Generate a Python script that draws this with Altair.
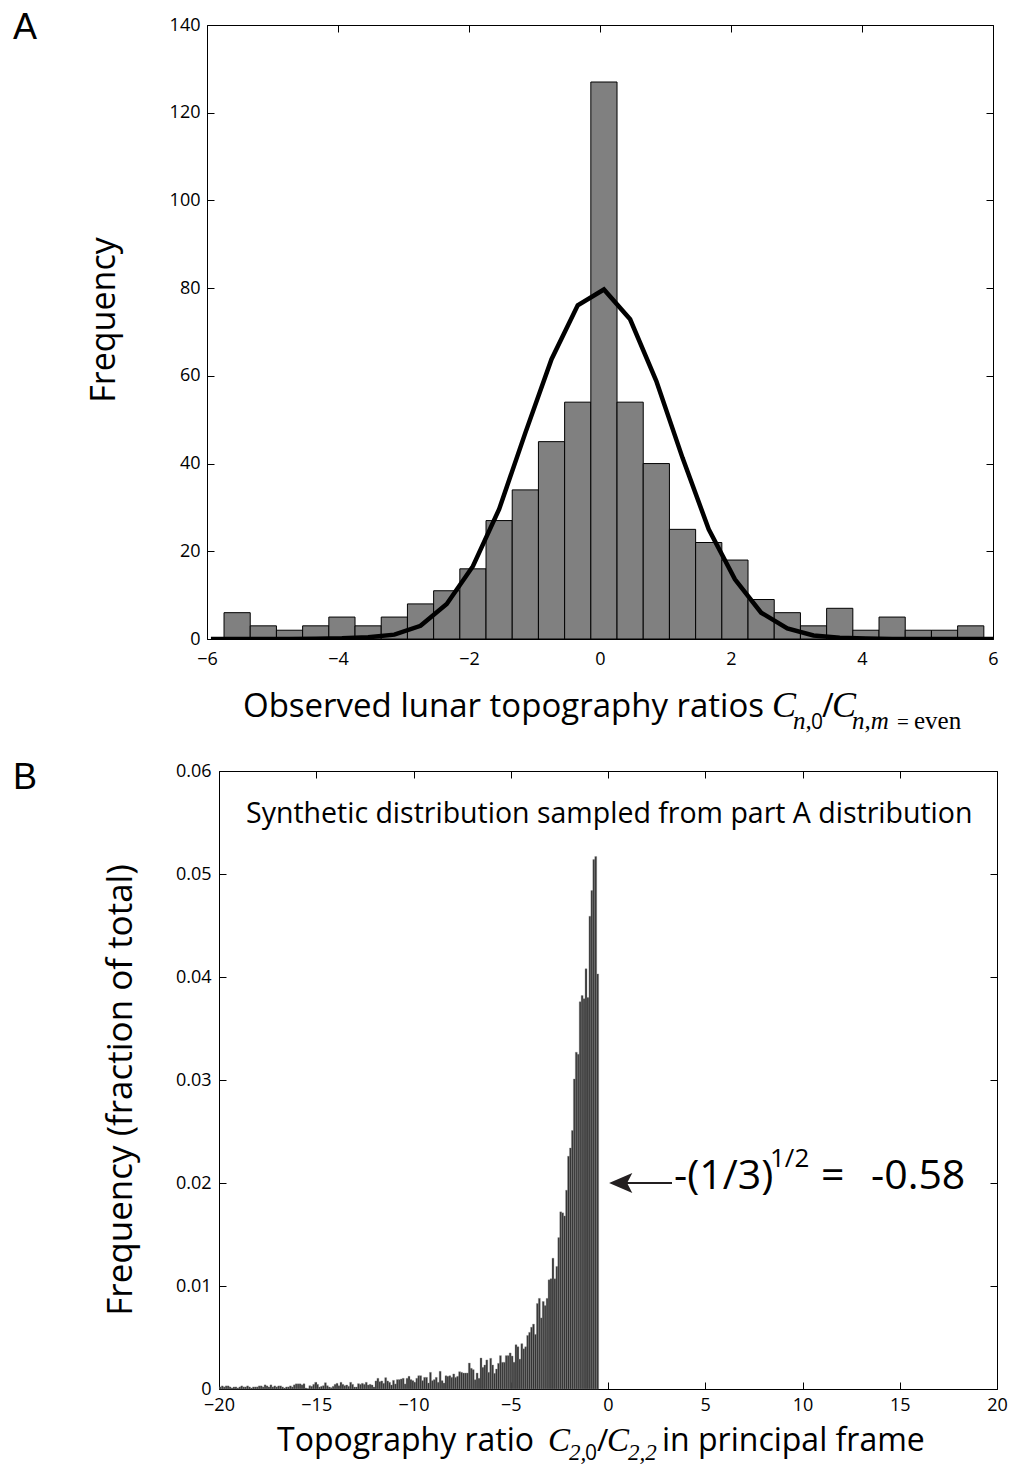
import altair as alt
import pandas as pd

# ---------------- Panel A data ----------------
A_centers = [-5.54, -5.14, -4.74, -4.34, -3.94, -3.54, -3.14, -2.74, -2.34, -1.94,
             -1.54, -1.14, -0.74, -0.34, 0.06, 0.46, 0.86, 1.26, 1.66, 2.06,
             2.46, 2.86, 3.26, 3.66, 4.06, 4.46, 4.86, 5.26, 5.66]
A_counts = [6, 3, 2, 3, 5, 3, 5, 8, 11, 16,
            27, 34, 45, 54, 127, 54, 40, 25, 22, 18,
            9, 6, 3, 7, 2, 5, 2, 2, 3]
A_bin_width = 0.4

curve_x = [-5.94, -5.54, -5.14, -4.74, -4.34, -3.94, -3.54, -3.14, -2.74, -2.34, -1.94,
           -1.54, -1.14, -0.74, -0.34, 0.06, 0.46, 0.86, 1.26, 1.66, 2.06,
           2.46, 2.86, 3.26, 3.66, 4.06, 4.46, 4.86, 5.26, 5.66, 6.06]
curve_y = [0.0, 0.0, 0.0, 0.0, 0.05, 0.15, 0.4, 1.0, 3.0, 8.0, 16.6,
           29.6, 47.0, 63.8, 76.1, 79.7, 72.9, 58.8, 41.3, 25.0, 13.6,
           6.0, 2.4, 0.8, 0.3, 0.1, 0.0, 0.0, 0.0, 0.0, 0.0]

A_xticks = [-6, -4, -2, 0, 2, 4, 6]
A_yticks = [0, 20, 40, 60, 80, 100, 120, 140]

# ---------------- Panel B data ----------------
B_first_center = -19.93
B_bin_width = 0.1
B_values = [
    # far tail
    0.0002, 0.0003, 0.0002, 0.0003, 0.0003, 0.0002, 0.0001, 0.0002, 0.0002, 0.0001,
    0.0002, 0.0003, 0.0002, 0.0002, 0.0003, 0.0002, 0.0001, 0.0002, 0.0002, 0.0002,
    0.0003, 0.0003, 0.0002, 0.0004, 0.0003, 0.0002, 0.0004, 0.0002, 0.0003, 0.0002,
    0.0003, 0.0003, 0.0002, 0.0001, 0.0002, 0.0002, 0.0003, 0.0002, 0.0004, 0.0005,
    0.0005, 0.0005, 0.0004, 0.0005,
    0.0001, 0.00005,
    0.00032, 0.00026, 0.00045, 0.00065, 0.00045, 0.00019, 0.00026, 0.00032, 0.00061, 0.00032,
    0.00019, 0.00013, 0.00026, 0.00045, 0.00055, 0.00032, 0.00065, 0.00045, 0.00032, 0.00039,
    0.00026, 0.00065, 0.00045, 0.00019, 0.00019, 0.00052, 0.00045, 0.00055, 0.00045, 0.00065,
    0.00039, 0.00045, 0.00039, 0.00019, 0.00078, 0.00104, 0.00071, 0.00078, 0.00055, 0.0011,
    0.00078, 0.00065, 0.00039, 0.00084,
    # middle
    0.00049, 0.00091, 0.00091, 0.00097, 0.00104, 0.00049, 0.00104, 0.00123, 0.00091, 0.00081,
    0.00065, 0.00104, 0.00129, 0.00129, 0.00081, 0.00113, 0.00113, 0.00058, 0.00162, 0.00081,
    0.00091, 0.00113, 0.00065, 0.00172, 0.00081, 0.00058, 0.00129, 0.00123, 0.00129, 0.00113,
    0.00146, 0.00113, 0.00123, 0.00168, 0.00162, 0.00155, 0.00155, 0.00155, 0.00252, 0.00201,
    0.00188, 0.00091, 0.00155, 0.00104, 0.00301, 0.0021, 0.00233, 0.00282, 0.00162, 0.00298,
    0.00233, 0.00152, 0.00194, 0.00249, 0.00324, 0.00259, 0.00259, 0.00324, 0.00324,
    # head
    0.0035, 0.0032, 0.0026, 0.0043, 0.0041, 0.0029, 0.0044, 0.0039, 0.0041, 0.0052,
    0.0055, 0.0060, 0.0063, 0.0053, 0.0083, 0.0088, 0.0069, 0.0085, 0.0081, 0.0088,
    0.0106, 0.0107, 0.0127, 0.0107, 0.0119, 0.0147, 0.0172, 0.0171, 0.0168, 0.0193,
    0.0226, 0.0234, 0.0251, 0.0301, 0.0327, 0.0325, 0.0376, 0.0382, 0.0379, 0.0408,
    0.0380, 0.0459, 0.0484, 0.0514, 0.0517, 0.0403,
]
B_xticks = [-20, -15, -10, -5, 0, 5, 10, 15, 20]
B_yticks = [0, 0.01, 0.02, 0.03, 0.04, 0.05, 0.06]

SANS = "Open Sans"
SERIF = "Liberation Serif"

A_W, A_H = 786, 614
B_W, B_H = 778, 618
TICK = 7

dfA = pd.DataFrame({
    "left": [c - A_bin_width / 2 for c in A_centers],
    "right": [c + A_bin_width / 2 for c in A_centers],
    "count": A_counts,
})
dfC = pd.DataFrame({"x": curve_x, "y": curve_y})

B_centers = [round(B_first_center + B_bin_width * i, 2) for i in range(len(B_values))]
dfB = pd.DataFrame({
    "left": [c - B_bin_width / 2 for c in B_centers],
    "right": [c + B_bin_width / 2 for c in B_centers],
    "freq": B_values,
})

one = pd.DataFrame({"k": [0]})


def txt(s, x, y, size, font=SANS, style="normal", align="left", baseline="alphabetic", angle=0):
    kw = dict(text=s, font=font, fontSize=size, fontStyle=style, align=align,
              baseline=baseline, color="black")
    if angle:
        kw["angle"] = angle
    return alt.Chart(one).mark_text(**kw).encode(x=alt.value(x), y=alt.value(y))


def inner_axis(orient, values, labels=True, pad=6, expr=None):
    kw = dict(orient=orient, values=values, tickSize=TICK, offset=-TICK, domain=False,
              grid=False, title="", labels=labels, labelPadding=pad, labelFlush=False,
              tickColor="black", tickWidth=1)
    if expr:
        kw["labelExpr"] = expr
    return alt.Axis(**kw)


# ---------------- Panel A ----------------
xA = alt.Scale(domain=[-6, 6], nice=False, zero=False)
yA = alt.Scale(domain=[0, 140], nice=False)

barsA = alt.Chart(dfA).mark_rect(fill="#808080", stroke="black", strokeWidth=1).encode(
    x=alt.X("left:Q", scale=xA, axis=inner_axis("bottom", A_xticks, pad=11)),
    x2="right:Q",
    y=alt.Y("count:Q", scale=yA, axis=inner_axis("left", A_yticks, pad=7)),
    y2=alt.datum(0),
)
frameA = alt.Chart(dfA).mark_rect(opacity=0).encode(
    x=alt.X("left:Q", scale=xA, axis=inner_axis("top", A_xticks, labels=False)),
    x2="right:Q",
    y=alt.Y("count:Q", scale=yA, axis=inner_axis("right", A_yticks, labels=False)),
    y2=alt.datum(0),
)
curveA = alt.Chart(dfC).mark_line(color="black", strokeWidth=4.5, clip=True).encode(
    x=alt.X("x:Q", scale=xA, axis=None),
    y=alt.Y("y:Q", scale=yA, axis=None),
)
anchor = alt.Chart(one).mark_rule(opacity=0, strokeWidth=0.01).encode(
    x=alt.value(-206), y=alt.value(-24), y2=alt.value(-23))

A_base_y = 692
A_sub_y = 704
textsA = [
    txt("A", -194, 14, 36, font="Liberation Sans"),
    txt("Frequency", -102, 295, 34, align="center", baseline="middle", angle=270),
    txt("Observed lunar topography ratios", 36, A_base_y, 33),
    txt("C", 565, A_base_y, 36, font=SERIF, style="italic"),
    txt("n,", 586, A_sub_y, 25, font=SERIF, style="italic"),
    txt("0", 604, A_sub_y, 21),
    txt("/", 615, A_base_y, 32),
    txt("C", 625, A_base_y, 36, font=SERIF, style="italic"),
    txt("n,m", 645, A_sub_y, 25, font=SERIF, style="italic"),
    txt("=", 690, A_sub_y, 21, font=SERIF),
    txt("even", 707, A_sub_y, 25, font=SERIF),
]

panelA = alt.layer(barsA, frameA, curveA, anchor, *textsA).resolve_axis(
    x="independent", y="independent").properties(width=A_W, height=A_H)

# ---------------- Panel B ----------------
xB = alt.Scale(domain=[-20, 20], nice=False, zero=False)
yB = alt.Scale(domain=[0, 0.06], nice=False)
yexpr = "datum.value == 0 ? '0' : format(datum.value, '.2f')"

barsB = alt.Chart(dfB).mark_rect(fill="#333333", stroke="#8c8c8c", strokeWidth=0.35).encode(
    x=alt.X("left:Q", scale=xB, axis=inner_axis("bottom", B_xticks, pad=7)),
    x2="right:Q",
    y=alt.Y("freq:Q", scale=yB, axis=inner_axis("left", B_yticks, pad=8, expr=yexpr)),
    y2=alt.datum(0),
)
frameB = alt.Chart(dfB).mark_rect(opacity=0).encode(
    x=alt.X("left:Q", scale=xB, axis=inner_axis("top", B_xticks, labels=False)),
    x2="right:Q",
    y=alt.Y("freq:Q", scale=yB, axis=inner_axis("right", B_yticks, labels=False)),
    y2=alt.datum(0),
)

arrow_head = alt.Chart(one).mark_point(
    shape="M -1 0 L 1 -0.85 L 0.55 0 L 1 0.85 Z", size=540, filled=True,
    color="#231f20", opacity=1).encode(x=alt.value(401.7), y=alt.value(412))
arrow_shaft = alt.Chart(one).mark_rule(color="#231f20", strokeWidth=2.2).encode(
    x=alt.value(408), x2=alt.value(453), y=alt.value(412))

B_base_y = 680
B_sub_y = 689
textsB = [
    txt("B", -206, 18, 36, font="Liberation Sans"),
    txt("Frequency (fraction of total)", -98, 319, 35, align="center", baseline="middle", angle=270),
    txt("Synthetic distribution sampled from part A distribution", 27, 52, 28.5),
    txt("Topography ratio", 58, B_base_y, 32),
    txt("C", 329, B_base_y, 33, font=SERIF, style="italic"),
    txt("2,", 350, B_sub_y, 23, font=SERIF, style="italic"),
    txt("0", 366, B_sub_y, 21),
    txt("/", 378, B_base_y, 31),
    txt("C", 388, B_base_y, 33, font=SERIF, style="italic"),
    txt("2,2", 409, B_sub_y, 23, font=SERIF, style="italic"),
    txt("in principal frame", 443, B_base_y, 32),
    txt("-(1/3)", 455, 418, 41),
    txt("1/2", 551, 396, 26),
    txt("=", 602, 418, 41),
    txt("-0.58", 652, 418, 41),
]

panelB = alt.layer(barsB, frameB, arrow_shaft, arrow_head, *textsB).resolve_axis(
    x="independent", y="independent").properties(width=B_W, height=B_H)

spacer = alt.Chart(one).mark_rule(opacity=0).encode(
    x=alt.value(0), y=alt.value(0), y2=alt.value(1)
).properties(width=12, height=10, view=alt.ViewBackground(strokeOpacity=0))

rowB = alt.hconcat(spacer, panelB, spacing=0, bounds="flush")

chart = alt.vconcat(panelA, rowB, spacing=132, bounds="flush").properties(
    padding=0
).configure_view(stroke="black", strokeWidth=1).configure_axis(
    labelFont=SANS, labelFontSize=18, labelColor="black"
)

chart.save("out.html", embed_options={"renderer": "svg", "actions": False})
